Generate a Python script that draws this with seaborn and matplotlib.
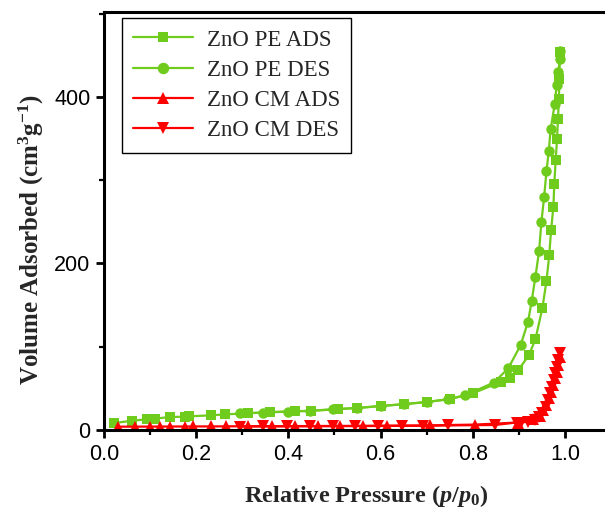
import matplotlib
matplotlib.use('Agg')
import matplotlib.pyplot as plt
import seaborn as sns
from matplotlib.ticker import MultipleLocator

# ZnO PE, adsorption branch (squares)
pe_ads_x = [0.022, 0.06, 0.093, 0.11, 0.143, 0.176, 0.185, 0.233, 0.262, 0.313, 0.36, 0.414,
            0.45, 0.508, 0.548, 0.60, 0.65, 0.70, 0.75, 0.80, 0.862, 0.881, 0.899, 0.922,
            0.936, 0.951, 0.960, 0.966, 0.970, 0.975, 0.977, 0.980, 0.983, 0.985, 0.987,
            0.988, 0.989]
pe_ads_y = [8.4, 11, 13, 13.6, 15.6, 16, 16.5, 17.6, 18.8, 20, 21.5, 22.6,
            23, 25, 26.4, 28.8, 31, 33.6, 37, 44, 58, 62, 72, 90,
            109, 146, 179, 210, 240, 268, 296, 324, 350, 374, 398,
            422, 454]

# ZnO PE, desorption branch (circles)
pe_des_x = [0.990, 0.989, 0.986, 0.982, 0.978, 0.969, 0.965, 0.960, 0.955, 0.949, 0.944,
            0.936, 0.928, 0.920, 0.904, 0.877, 0.846, 0.783, 0.746, 0.70, 0.65, 0.602,
            0.548, 0.497, 0.447, 0.40, 0.345, 0.295]
pe_des_y = [455, 446, 430, 414, 392, 361, 335, 311, 280, 250, 215,
            184, 155, 130, 102, 74, 57, 41.6, 37, 33.6, 31, 28.8,
            26.4, 25, 23, 22, 21, 20]

# ZnO CM, adsorption branch (up triangles)
cm_ads_x = [0.031, 0.067, 0.10, 0.121, 0.143, 0.176, 0.194, 0.233, 0.264, 0.313, 0.364,
            0.414, 0.465, 0.512, 0.563, 0.613, 0.707, 0.805, 0.898, 0.93, 0.946, 0.953,
            0.96, 0.965, 0.97, 0.975, 0.978, 0.982, 0.985, 0.989]
cm_ads_y = [4, 4, 4.1, 4.1, 4.2, 4.2, 4.3, 4.3, 4.4, 4.5, 4.6,
            4.7, 4.8, 4.9, 5, 5.2, 5.6, 6.5, 9, 13, 17, 24,
            30, 38, 46, 54, 62, 70, 78, 88]

# ZnO CM, desorption branch (down triangles)
cm_des_x = [0.99, 0.986, 0.983, 0.979, 0.976, 0.972, 0.968, 0.963, 0.958, 0.951, 0.944,
            0.935, 0.92, 0.905, 0.895, 0.848, 0.747, 0.693, 0.646, 0.595, 0.544, 0.497,
            0.447, 0.396, 0.346, 0.295]
cm_des_y = [92, 84, 76, 68, 60, 52, 44, 36, 28, 21, 16,
            12, 10, 9, 9, 6, 5.5, 5, 5, 4.8, 4.7, 4.6,
            4.5, 4.4, 4.3, 4.2]

green = '#6fcb1c'
red = '#ff0000'

sns.set_style('ticks')
plt.rcParams['font.family'] = ['Liberation Sans', 'DejaVu Sans']
plt.rcParams['mathtext.fontset'] = 'custom'
plt.rcParams['mathtext.rm'] = 'Liberation Serif:bold'
plt.rcParams['mathtext.it'] = 'Liberation Serif:italic:bold'
plt.rcParams['mathtext.bf'] = 'Liberation Serif:bold'

fig = plt.figure(figsize=(6.05, 5.12), dpi=100)
ax = fig.add_axes([104 / 605, 82 / 512, 507 / 605, 418 / 512])

series = [
    (pe_ads_x, pe_ads_y, 's', 7, green, 'ZnO PE ADS'),
    (pe_des_x, pe_des_y, 'o', 7.5, green, 'ZnO PE DES'),
    (cm_ads_x, cm_ads_y, '^', 8, red, 'ZnO CM ADS'),
    (cm_des_x, cm_des_y, 'v', 8, red, 'ZnO CM DES'),
]
for xs, ys, mk, ms, col, lab in series:
    sns.lineplot(x=xs, y=ys, ax=ax, sort=False, estimator=None, color=col,
                 marker=mk, markersize=ms, markeredgewidth=0, linewidth=1.6,
                 label=lab)

ax.set_xlim(0, 1.1)
ax.set_ylim(0, 502)
ax.xaxis.set_minor_locator(MultipleLocator(0.1))
ax.yaxis.set_major_locator(MultipleLocator(200))
ax.yaxis.set_minor_locator(MultipleLocator(100))
ax.set_xticks([0.0, 0.2, 0.4, 0.6, 0.8, 1.0])
ax.set_xticklabels(['0.0', '0.2', '0.4', '0.6', '0.8', '1.0'])

for sp in ax.spines.values():
    sp.set_linewidth(2.2)
    sp.set_color('black')
ax.tick_params(which='major', direction='out', length=5.8, width=2, labelsize=15.5,
               colors='black', pad=4)
ax.tick_params(which='minor', direction='out', length=3.6, width=1.6, colors='black')

ax.set_xlabel(r'Relative Pressure $\mathit{(p/p_0)}$', family='Liberation Serif',
              fontweight='bold', fontsize=17.5, labelpad=13)
ax.set_ylabel(r'Volume Adsorbed (cm$^{3}$g$^{-1}$)', family='Liberation Serif',
              fontweight='bold', fontsize=18, labelpad=6)
ax.xaxis.label.set_x(0.518)
ax.yaxis.label.set_y(0.455)

leg = ax.legend(loc='upper left', bbox_to_anchor=(0.0355, 0.9856), borderaxespad=0,
                prop={'family': 'Liberation Serif', 'size': 16.5}, frameon=True,
                fancybox=False, edgecolor='black', framealpha=1, handlelength=2.6,
                labelspacing=0.4, borderpad=0.5, handletextpad=0.6, markerscale=1.1)
leg.get_frame().set_linewidth(1)

fig.savefig('out.png', dpi=100)
